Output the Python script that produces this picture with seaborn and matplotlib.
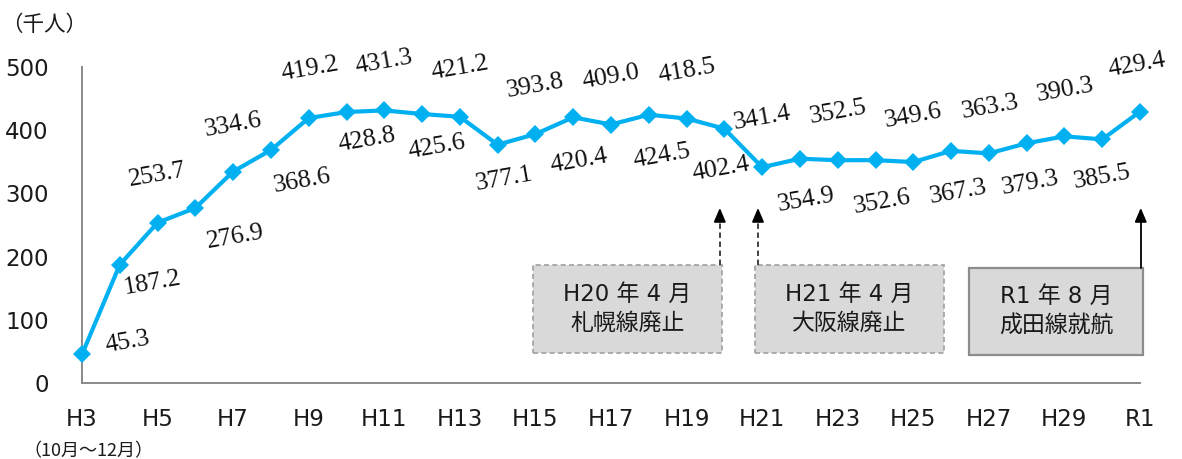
import matplotlib
matplotlib.use("Agg")
import matplotlib.pyplot as plt
from matplotlib.patches import Rectangle
import pandas as pd
import seaborn as sns

# Passenger counts (thousands) by fiscal year
years = ["H3", "H4", "H5", "H6", "H7", "H8", "H9", "H10", "H11", "H12",
         "H13", "H14", "H15", "H16", "H17", "H18", "H19", "H20", "H21",
         "H22", "H23", "H24", "H25", "H26", "H27", "H28", "H29", "H30", "R1"]
passengers = [45.3, 187.2, 253.7, 276.9, 334.6, 368.6, 419.2, 428.8, 431.3,
              425.6, 421.2, 377.1, 393.8, 420.4, 409.0, 424.5, 418.5, 402.4,
              341.4, 354.9, 352.5, 352.6, 349.6, 367.3, 363.3, 379.3, 390.3,
              385.5, 429.4]
tick_labels = ["H3", "", "H5", "", "H7", "", "H9", "", "H11", "", "H13", "",
               "H15", "", "H17", "", "H19", "", "H21", "", "H23", "", "H25",
               "", "H27", "", "H29", "", "R1"]
events = ["H20 年 4 月\n札幌線廃止", "H21 年 4 月\n大阪線廃止", "R1 年 8 月\n成田線就航"]

# value label offsets in pixels (dx, dy)
label_offsets = [(46, 12), (32, -18), (0, 48), (40, -29), (0, 46), (31, -31),
                 (1, 49), (21, -28), (0, 48), (15, -33), (0, 49), (7, -34),
                 (0, 48), (6, -44), (0, 47), (13, -41), (0, 47), (-3, -40),
                 (0, 49), (6, -41), (0, 48), (7, -42), (0, 46), (7, -41),
                 (1, 46), (4, -40), (1, 46), (0, -38), (-3, 47)]

sns.set_theme(style="white")
plt.rcParams["font.family"] = ["DejaVu Sans", "Noto Sans CJK JP"]

df = pd.DataFrame({"idx": range(len(years)), "value": passengers})

fig = plt.figure(figsize=(11.82, 4.59), dpi=100)
ax = fig.add_axes([82 / 1182, 1 - 383 / 459, (1140 - 82) / 1182, (383 - 67) / 459])

line_color = "#00B0F0"
sns.lineplot(data=df, x="idx", y="value", ax=ax, color=line_color,
             linewidth=3.0, marker="D", markersize=9, markeredgewidth=0,
             clip_on=False, zorder=3)

ax.set_xlim(0, len(years) - 1)
ax.set_ylim(0, 500)
ax.set_xticks(range(len(years)))
ax.set_xticklabels(tick_labels)
ax.set_yticks([0, 100, 200, 300, 400, 500])
ax.set_xlabel("")
ax.set_ylabel("")

axis_gray = "#8a8a8a"
for side in ["top", "right"]:
    ax.spines[side].set_visible(False)
for side in ["left", "bottom"]:
    ax.spines[side].set_color(axis_gray)
    ax.spines[side].set_linewidth(1.4)
ax.tick_params(axis="both", direction="in", length=6.5, width=1.2,
               color=axis_gray, labelsize=16.5, labelcolor="#1a1a1a")
ax.tick_params(axis="x", pad=18)
ax.tick_params(axis="y", pad=24)

# value labels
for i, v in enumerate(passengers):
    dx, dy = label_offsets[i]
    ax.annotate(f"{v:.1f}", xy=(i, v), xytext=(dx, dy),
                textcoords="offset pixels", ha="center", va="center",
                rotation=10, rotation_mode="anchor", fontsize=18.5,
                family="Liberation Serif", color="#111111",
                annotation_clip=False, zorder=4)

# event boxes: (x0, x1, y0, y1, dashed, arrow_x)
box_specs = [(11.93, 16.94, 47.5, 187.0, True, 16.88),
             (17.81, 22.81, 47.5, 187.0, True, 17.89),
             (23.47, 28.08, 44.3, 182.0, False, 28.02)]
arrow_tip = 277
for text, (x0, x1, y0, y1, dashed, ax_x) in zip(events, box_specs):
    rect = Rectangle((x0, y0), x1 - x0, y1 - y0, facecolor="#d9d9d9",
                     edgecolor="#a0a0a0" if dashed else "#8c8c8c",
                     linewidth=1.2 if dashed else 1.6,
                     linestyle=(0, (3, 2)) if dashed else "-",
                     clip_on=False, zorder=2)
    ax.add_patch(rect)
    ax.text((x0 + x1) / 2, (y0 + y1) / 2, text, ha="center", va="center",
            fontsize=16.5, color="#1a1a1a", linespacing=1.35, zorder=3)
    ax.plot([ax_x, ax_x], [y1, arrow_tip - 8], color="#333333" if dashed else "black",
            linewidth=1.3, linestyle=(0, (3, 2)) if dashed else "-",
            clip_on=False, zorder=2)
    ax.annotate("", xy=(ax_x, arrow_tip), xytext=(ax_x, arrow_tip - 12),
                arrowprops=dict(arrowstyle="-|>,head_length=0.7,head_width=0.3",
                                color="black", linewidth=1.3,
                                shrinkA=0, shrinkB=0),
                annotation_clip=False, zorder=3)

fig.text(44 / 1182, 1 - 25 / 459, "（千人）", ha="center", va="center",
         fontsize=15.5, color="#1a1a1a", family=["Noto Sans CJK JP", "DejaVu Sans"])
fig.text(88 / 1182, 1 - 451 / 459, "（10月～12月）", ha="center", va="center",
         fontsize=13, color="#1a1a1a", family=["Noto Sans CJK JP", "DejaVu Sans"])

fig.savefig("out.png", dpi=100)
